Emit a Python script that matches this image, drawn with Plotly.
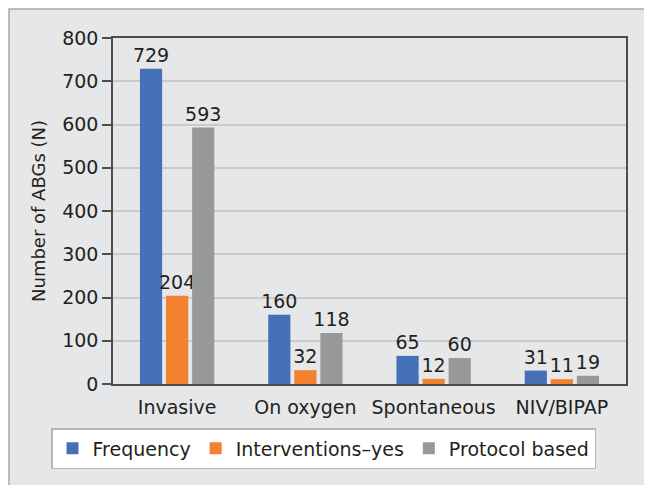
import plotly.graph_objects as go

categories = ["Invasive", "On oxygen", "Spontaneous", "NIV/BIPAP"]
frequency = [729, 160, 65, 31]
interventions_yes = [204, 32, 12, 11]
protocol_based = [593, 118, 60, 19]
y_ticks = [0, 100, 200, 300, 400, 500, 600, 700, 800]

FONT = "DejaVu Sans"
TXT = "#231f20"
FS = 19

series = [
    ("Frequency", frequency, "#4470b8"),
    ("Interventions\u2013yes", interventions_yes, "#f4812f"),
    ("Protocol based", protocol_based, "#96989a"),
]

fig = go.Figure()
for name, vals, col in series:
    fig.add_trace(go.Bar(
        x=categories, y=vals, name=name,
        marker=dict(color=col, line=dict(width=0)),
        text=[str(v) for v in vals], textposition="outside",
        constraintext="none",
        textfont=dict(family=FONT, size=FS, color=TXT),
        cliponaxis=False,
    ))

# page has an 8px body margin; work in page pixels and convert
OFF = 8
W, H = 652 - OFF, 485 - OFF
PL, PR, PT, PB = 113, 626, 38, 384  # plot area in page pixels
L, T = PL - OFF, PT - OFF
R, B = W - (PR - OFF), H - (PB - OFF)
pw, ph = PR - PL, PB - PT

def px_x(p):
    return (p - PL) / pw

def px_y(p):
    return (PB - p) / ph

fig.update_layout(
    width=W, height=H,
    margin=dict(l=L, r=R, t=T, b=B, autoexpand=False),
    paper_bgcolor="white",
    plot_bgcolor="white",
    barmode="group",
    bargap=0.39,
    bargroupgap=0.15,
    font=dict(family=FONT, size=FS, color=TXT),
    showlegend=True,
    legend=dict(
        orientation="h",
        x=px_x(51), xanchor="left",
        y=px_y(428), yanchor="top",
        bgcolor="white",
        bordercolor="#b3b5b7", borderwidth=1.5,
        font=dict(family=FONT, size=FS, color=TXT),
        itemwidth=30,
        traceorder="normal",
    ),
    xaxis=dict(
        showline=True, linecolor="#4d4d4f", linewidth=1.5, mirror=True,
        ticks="", tickfont=dict(family=FONT, size=FS, color=TXT),
        ticklabelstandoff=5,
    ),
    yaxis=dict(
        range=[0, 800], tickvals=y_ticks,
        showline=True, linecolor="#4d4d4f", linewidth=1.5, mirror=True,
        ticks="outside", ticklen=9, tickcolor="#4d4d4f", tickwidth=1.5,
        showgrid=True, gridcolor="#c9cacb", gridwidth=1.5,
        tickfont=dict(family=FONT, size=FS, color=TXT),
        title=dict(text="Number of ABGs (N)", standoff=12,
                   font=dict(family=FONT, size=18, color=TXT)),
        zeroline=False,
    ),
    shapes=[dict(
        type="rect", xref="paper", yref="paper", layer="below",
        x0=px_x(OFF + 1), x1=px_x(700), y0=px_y(520), y1=px_y(OFF + 1),
        fillcolor="#e6e7e8", line=dict(color="#a7a9ac", width=1.5),
    )],
)

fig.write_html("out.html")
